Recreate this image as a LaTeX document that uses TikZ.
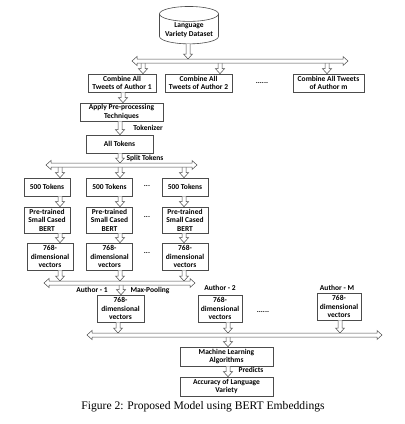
\documentclass[tikz,border=0pt]{standalone}
\usepackage{fontspec}
\setmainfont{Liberation Serif}
\newfontfamily\boxfont{Carlito}
\usetikzlibrary{calc,shapes.geometric}
\tikzset{
    proc/.style={draw=black!70, line width=0.6pt, align=center, inner sep=1pt, minimum height=18pt, font=\boxfont\bfseries\fontsize{7.5}{8.6}\selectfont},
    lbl/.style={inner sep=0pt, font=\boxfont\bfseries\fontsize{7.5}{8.6}\selectfont},
    va/.style={draw=black!70, fill=white, line width=0.5pt, to path={let \p1=(\tikztostart), \p2=(\tikztotarget) in
        (\x1-2pt,\y1) -- (\x1-2pt,\y2+5pt) -- (\x1-4.5pt,\y2+5pt) -- (\x1,\y2) -- (\x1+4.5pt,\y2+5pt) -- (\x1+2pt,\y2+5pt) -- (\x1+2pt,\y1)}},
    hb/.style={draw=black!70, fill=white, line width=0.5pt, to path={let \p1=(\tikztostart), \p2=(\tikztotarget) in
        (\x1,\y1) -- (\x1+5pt,\y1+4.5pt) -- (\x1+5pt,\y1+2pt) -- (\x2-5pt,\y1+2pt) -- (\x2-5pt,\y1+4.5pt) -- (\x2,\y1)
        -- (\x2-5pt,\y1-4.5pt) -- (\x2-5pt,\y1-2pt) -- (\x1+5pt,\y1-2pt) -- (\x1+5pt,\y1-4.5pt) -- cycle}}
}
\begin{document}
\begin{tikzpicture}[x=1pt,y=-1pt]
\useasboundingbox (0,0) rectangle (405,424);
% dataset and authors
\node[proc, cylinder, shape border rotate=90, aspect=0.3, minimum width=59pt, minimum height=35pt] (data) at (189,30) {Language\\Variety Dataset};
\node[proc, minimum width=68pt] (c1) at (122,83) {Combine All\\Tweets of Author 1};
\node[proc, minimum width=67pt] (c2) at (198.5,83) {Combine All\\Tweets of Author 2};
\node[lbl] (d1) at (262,83) {......};
\node[proc, minimum width=71pt] (c3) at (328.5,83) {Combine All Tweets\\of Author m};
\node[proc, minimum width=83pt] (pre) at (121.5,112) {Apply Pre-processing\\Techniques};
\node[proc, minimum width=67pt] (all) at (119.5,144) {All Tokens};
\node[lbl] (tok) at (148,128) {Tokenizer};
\node[lbl] (split) at (145,158) {Split Tokens};
% bar ends and branch points
\coordinate (bar1w) at (132,61);  \coordinate (bar1e) at (348,61);
\coordinate (bar2w) at (46,165);  \coordinate (bar2e) at (197,165);
\coordinate (bar3w) at (44,283);  \coordinate (bar3e) at (195,283);
\coordinate (bar4w) at (87,335);  \coordinate (bar4e) at (382,335);
\coordinate (s1) at (143,61); \coordinate (s2) at (220,61); \coordinate (s3) at (327,61);
\coordinate (m1) at (121,283);
\coordinate (n1) at (228,335);
% token columns
\foreach \i/\x/\vx/\ax in {1/47/50/60, 2/109.5/109.5/120, 3/185/185/184} {
  \coordinate (u\i) at (\ax,165);
  \node[proc, minimum width=46pt] (t\i) at (\x,187) {500 Tokens};
  \node[proc, minimum width=46pt, minimum height=26pt] (b\i) at (\x,220) {Pre-trained\\Small Cased\\BERT};
  \node[proc, minimum width=46pt, minimum height=27pt] (v\i) at (\vx,256.5) {768-\\dimensional\\vectors};
  \draw[va] (u\i) to (t\i.north);
  \draw[va] (u\i |- t\i.south) to (b\i.north);
  \draw[va] (u\i |- b\i.south) to (v\i.north);
  \draw[va] (u\i |- v\i.south) to ($(u\i |- bar3w)+(0,-2)$);
}
\node[lbl] at (147,186) {...};
\node[lbl] at (147,217) {...};
\node[lbl] at (147,253) {...};
% pooled vectors
\node[lbl] (au1) at (92,290) {Author - 1};
\node[lbl] (mp) at (150,290) {Max-Pooling};
\node[lbl] (au2) at (220,288) {Author - 2};
\node[lbl] (au3) at (337,288) {Author - M};
\node[proc, minimum width=47pt, minimum height=27pt] (a1) at (120.5,308.5) {768-\\dimensional\\vectors};
\node[proc, minimum width=44pt, minimum height=27pt] (a2) at (220,308.5) {768-\\dimensional\\vectors};
\node[lbl] (d2) at (263,312) {......};
\node[proc, minimum width=44pt, minimum height=27pt] (a3) at (339,306.5) {768-\\dimensional\\vectors};
% classifier
\node[proc, minimum width=93pt, minimum height=19pt] (ml) at (226.5,356.5) {Machine Learning\\Algorithms};
\node[proc, minimum width=93pt, minimum height=19pt] (acc) at (226.5,386.5) {Accuracy of Language\\Variety};
\node[lbl] (pred) at (251,370) {Predicts};
\node[font=\fontsize{11.6}{13}\selectfont] (cap) at (203,407) {Figure 2: Proposed Model using BERT Embeddings};
% block arrows
\draw[va] ([xshift=-1pt]data.south) to ($(bar1w)+(0,-2)$);
\draw[va] (s1) to (c1.north);
\draw[va] (s2) to (c2.north);
\draw[va] (s3) to (c3.north);
\draw[va] ([xshift=1pt]c1.south) to (pre.north);
\draw[va] ([xshift=-1.5pt]pre.south) to (all.north);
\draw[va] ([xshift=0.5pt]all.south) to ($(bar2w)+(0,-2)$);
\draw[va] (m1) to (a1.north);
\draw[va] ([xshift=-2.5pt]a1.south) to ($(bar4w)+(0,-2)$);
\draw[va] ([xshift=8pt]a2.south) to ($(bar4w)+(0,-2)$);
\draw[va] ([xshift=1pt]a3.south) to ($(bar4w)+(0,-2)$);
\draw[va] (n1) to (ml.north);
\draw[va] ([xshift=1.5pt]ml.south) to (acc.north);
% double-headed bars
\draw[hb] (bar1w) to (bar1e);
\draw[hb] (bar2w) to (bar2e);
\draw[hb] (bar3w) to (bar3e);
\draw[hb] (bar4w) to (bar4e);
\end{tikzpicture}
\end{document}
